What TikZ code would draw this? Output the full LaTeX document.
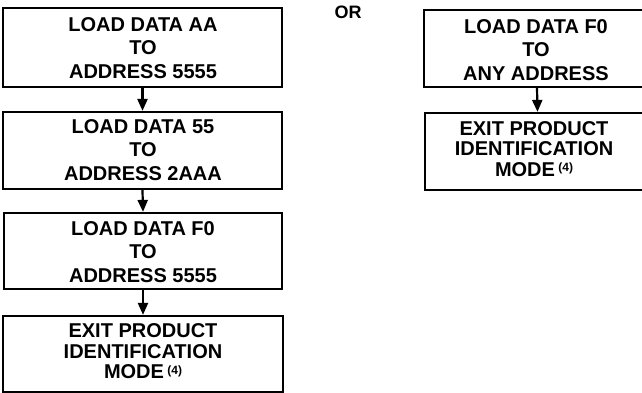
\documentclass[tikz,border=0pt]{standalone}
\usepackage{fontspec}
\setmainfont{Liberation Sans}
\usetikzlibrary{arrows.meta}
\begin{document}
\begin{tikzpicture}[x=1pt,y=-1pt,
  box/.style={draw,line width=2.2pt,inner sep=0pt},
  txt/.style={align=center,inner sep=0pt,font=\fontsize{20}{23.5}\selectfont\bfseries},
  txtx/.style={align=center,inner sep=0pt,font=\fontsize{20}{20.5}\selectfont\bfseries},
  sup/.style={},
  arr/.style={line width=2.2pt,-{Triangle[width=10pt,length=12pt]}}]
\useasboundingbox (0,0) rectangle (642,393);
\clip (0,0) rectangle (642,393);
% left column boxes
\node[box,minimum width=279pt,minimum height=79pt] (b1) at (142.5,47.5) {};
\node[box,minimum width=279pt,minimum height=77pt] (b2) at (142.5,150.5) {};
\node[box,minimum width=278pt,minimum height=76pt] (b3) at (143,251) {};
\node[box,minimum width=280pt,minimum height=76pt] (b4) at (143,354) {};
% right column boxes
\node[box,minimum width=226pt,minimum height=77pt] (r1) at (537,48.5) {};
\node[box,minimum width=225pt,minimum height=77pt] (r2) at (537.5,151.5) {};
% texts
\node[txt] (t1) at (143,48) {LOAD DATA AA\\TO\\ADDRESS 5555};
\node[txt] (t2) at (143,150) {LOAD DATA 55\\TO\\ADDRESS 2AAA};
\node[txt] (t3) at (143,252) {LOAD DATA F0\\TO\\ADDRESS 5555};
\node[txtx] (t4) at (143,351.5) {EXIT PRODUCT\\IDENTIFICATION\\MODE\,\raisebox{4.5pt}{\fontsize{12}{12}\selectfont(4)}};
\node[txt] (u1) at (536,50) {LOAD DATA F0\\TO\\ANY ADDRESS};
\node[txtx] (u2) at (534,149) {EXIT PRODUCT\\IDENTIFICATION\\MODE\,\raisebox{4.5pt}{\fontsize{12}{12}\selectfont(4)}};
\node[inner sep=0pt,font=\fontsize{18}{18}\selectfont\bfseries] (or) at (348,12.5) {OR};
% connectors
\draw[arr] (b1.south) -- (b2.north);
\draw[arr] (b2.south) -- (b3.north);
\draw[arr] (b3.south) -- (b4.north);
\draw[arr] (r1.south) -- (r2.north);
\end{tikzpicture}
\end{document}
